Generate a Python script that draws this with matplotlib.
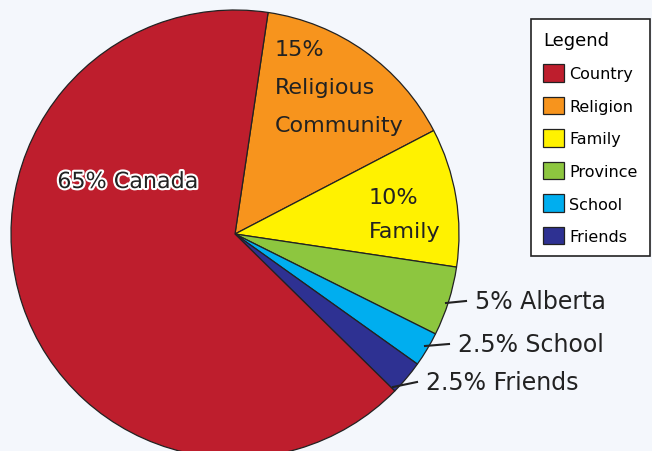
import matplotlib.pyplot as plt
import matplotlib.patheffects as pe

labels = ["Religion", "Family", "Province", "School", "Friends", "Country"]
shares = [15, 10, 5, 2.5, 2.5, 65]
colors = ["#F7941D", "#FFF200", "#8DC63F", "#00AEEF", "#2E3192", "#BE1E2D"]
legend_order = ["Country", "Religion", "Family", "Province", "School", "Friends"]

plt.rcParams["font.family"] = ["DejaVu Sans"]

bg = "#F4F7FC"
fig = plt.figure(figsize=(6.52, 4.52), dpi=100, facecolor=bg)
# pie centred at (235, 235) px, radius 224 px, slightly cut at bottom
ax = fig.add_axes([11 / 652, -7 / 452, 448 / 652, 448 / 452])
ax.set_facecolor(bg)

wedges, _ = ax.pie(shares, colors=colors, startangle=81.5, counterclock=False,
                   radius=1.0, wedgeprops=dict(edgecolor="#222222", linewidth=0.9))
ax.set_xlim(-1, 1)
ax.set_ylim(-1, 1)
ax.set_aspect("equal")
ax.axis("off")


def px(x, y):
    # figure pixel -> data coords
    return ((x - 235) / 224, (235 - y) / 224)


txt = dict(color="#222222", fontsize=16)

ax.text(*px(128, 183), "65% Canada", ha="center", va="center",
        path_effects=[pe.withStroke(linewidth=3, foreground="white")], **txt)
ax.text(*px(275, 88), "15%\nReligious\nCommunity", ha="left", va="center",
        linespacing=2.15, **txt)
ax.text(*px(369, 215), "10%\nFamily", ha="left", va="center",
        linespacing=1.9, **txt)

callouts = [("5% Alberta", (446, 304), (466, 302), (475, 302)),
            ("2.5% School", (425, 347), (449, 345), (458, 345)),
            ("2.5% Friends", (393, 388), (417, 383), (426, 383))]
for text, p0, p1, pt in callouts:
    (x0, y0), (x1, y1) = px(*p0), px(*p1)
    ax.plot([x0, x1], [y0, y1], color="#222222", lw=1.5, clip_on=False)
    ax.text(*px(*pt), text, ha="left", va="center", fontsize=17, color="#222222")

handles = [wedges[labels.index(n)] for n in legend_order]
leg = fig.legend(handles, legend_order, title="Legend", loc="upper left",
                 bbox_to_anchor=(531 / 652, 1 - 20 / 452), fontsize=11.5,
                 title_fontsize=13, alignment="left", frameon=True,
                 fancybox=False, edgecolor="#222222", facecolor="white",
                 framealpha=1, handlelength=1.3, handleheight=1.3,
                 handletextpad=0.35, labelspacing=0.95, borderpad=0.75,
                 borderaxespad=0)
leg.get_frame().set_linewidth(1.2)

fig.savefig("out.png", dpi=100, facecolor=bg)
